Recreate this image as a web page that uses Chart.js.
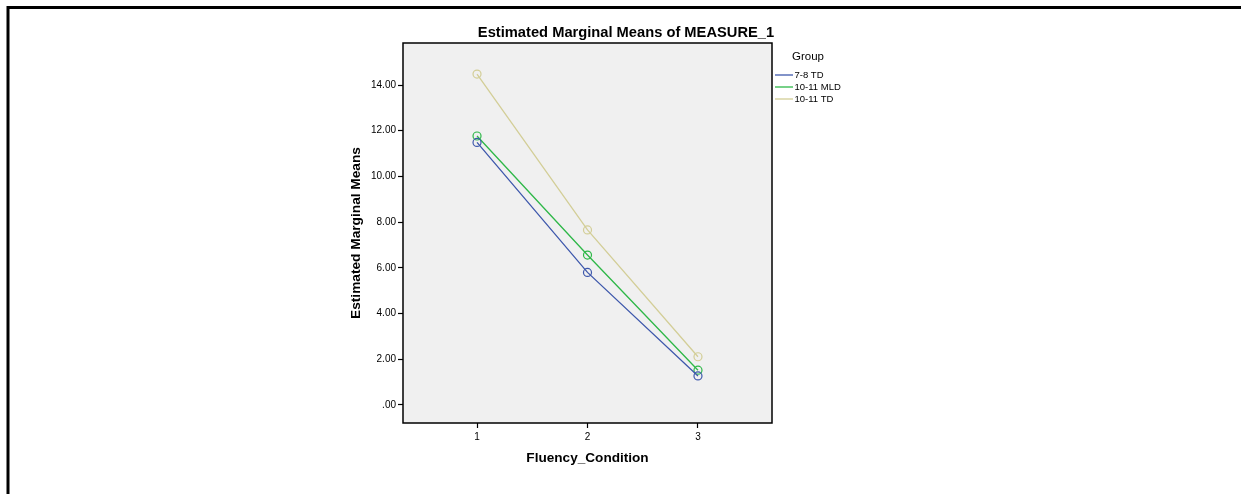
<!DOCTYPE html>
<html>
<head>
<meta charset="utf-8">
<title>Estimated Marginal Means of MEASURE_1</title>
<script src="https://cdn.jsdelivr.net/npm/chart.js@4.4.0/dist/chart.umd.min.js"></script>
<style>
    html, body { margin: 0; padding: 0; background: #fff; }
    canvas { display: block; }
</style>
</head>
<body>
<canvas id="emmChart" width="1241" height="494"></canvas>
<script>
// Data
const conditions = [1, 2, 3];
const groupNames = ['7-8 TD', '10-11 MLD', '10-11 TD'];
const td78 = [11.49, 5.80, 1.27];
const mld1011 = [11.77, 6.56, 1.52];
const td1011 = [14.48, 7.66, 2.11];
const yTicks = [0, 2, 4, 6, 8, 10, 12, 14];
const yTickLabels = ['.00', '2.00', '4.00', '6.00', '8.00', '10.00', '12.00', '14.00'];
const xTicks = [1, 2, 3];

// SPSS default palette
const groupColors = ['#3E58AC', '#2EB848', '#D3CE97'];
const seriesValues = [td78, mld1011, td1011];

const FONT = '"Liberation Sans", Arial, sans-serif';

function makeDataset(i) {
    return {
        label: groupNames[i],
        data: conditions.map((c, j) => ({ x: c, y: seriesValues[i][j] })),
        borderColor: groupColors[i],
        backgroundColor: 'transparent',
        borderWidth: 1.3,
        pointRadius: 4,
        pointHoverRadius: 4,
        pointBorderWidth: 1.2,
        pointBackgroundColor: 'transparent',
        pointBorderColor: groupColors[i],
        tension: 0
    };
}

// Page frame, plot background, title, legend
const spssDecor = {
    id: 'spssDecor',
    beforeDraw(chart) {
        const { ctx, chartArea: a } = chart;
        ctx.save();
        ctx.fillStyle = '#f0f0f0';
        ctx.fillRect(a.left, a.top, a.right - a.left, a.bottom - a.top);
        ctx.restore();
    },
    afterDraw(chart) {
        const { ctx, chartArea: a } = chart;
        ctx.save();
        // outer page border (top + left)
        ctx.strokeStyle = '#000';
        ctx.lineWidth = 3;
        ctx.beginPath();
        ctx.moveTo(1241, 7.5);
        ctx.lineTo(8, 7.5);
        ctx.lineTo(8, 494);
        ctx.stroke();

        // plot frame
        ctx.lineWidth = 1.5;
        ctx.strokeRect(a.left, a.top, a.right - a.left, a.bottom - a.top);

        // title
        ctx.fillStyle = '#000';
        ctx.font = 'bold 14.7px ' + FONT;
        ctx.textAlign = 'center';
        ctx.textBaseline = 'middle';
        ctx.fillText('Estimated Marginal Means of MEASURE_1', 626, 33);

        // legend
        ctx.textAlign = 'left';
        ctx.font = '11.5px ' + FONT;
        ctx.fillText('Group', 792, 57);
        ctx.font = '9.5px ' + FONT;
        chart.data.datasets.forEach((ds, i) => {
            const y = 75 + i * 12;
            ctx.strokeStyle = ds.borderColor;
            ctx.lineWidth = 1.3;
            ctx.beginPath();
            ctx.moveTo(775, y);
            ctx.lineTo(793, y);
            ctx.stroke();
            ctx.fillStyle = '#000';
            ctx.fillText(ds.label, 794.5, y + 0.5);
        });
        ctx.restore();
    }
};

const ctx = document.getElementById('emmChart').getContext('2d');
const chart = new Chart(ctx, {
    type: 'line',
    data: {
        datasets: [makeDataset(0), makeDataset(1), makeDataset(2)]
    },
    options: {
        responsive: false,
        animation: false,
        devicePixelRatio: 1,
        layout: {
            padding: { left: 340, top: 43, right: 469, bottom: 21 }
        },
        plugins: {
            legend: { display: false },
            title: { display: false },
            tooltip: { enabled: false }
        },
        scales: {
            x: {
                type: 'linear',
                min: 0.33,
                max: 3.67,
                afterBuildTicks: (scale) => { scale.ticks = xTicks.map(v => ({ value: v })); },
                afterFit: (scale) => { scale.height = 50; },
                grid: {
                    drawOnChartArea: false,
                    drawTicks: true,
                    tickLength: 5,
                    tickColor: '#000',
                    tickWidth: 1.2
                },
                border: { display: false },
                ticks: {
                    color: '#000',
                    font: { family: FONT, size: 10 },
                    padding: 3,
                    maxRotation: 0,
                    callback: (v) => String(v)
                },
                title: {
                    display: true,
                    text: 'Fluency_Condition',
                    color: '#000',
                    font: { family: FONT, size: 13.6, weight: 'bold' },
                    padding: { top: 0, bottom: 7 }
                }
            },
            y: {
                type: 'linear',
                min: -0.79,
                max: 15.84,
                afterBuildTicks: (scale) => { scale.ticks = yTicks.map(v => ({ value: v })); },
                afterFit: (scale) => { scale.width = 63; },
                grid: {
                    drawOnChartArea: false,
                    drawTicks: true,
                    tickLength: 5,
                    tickColor: '#000',
                    tickWidth: 1.2
                },
                border: { display: false },
                ticks: {
                    color: '#000',
                    font: { family: FONT, size: 10 },
                    padding: 2,
                    callback: (v) => yTickLabels[yTicks.indexOf(v)]
                },
                title: {
                    display: true,
                    text: 'Estimated Marginal Means',
                    color: '#000',
                    font: { family: FONT, size: 13.7, weight: 'bold' },
                    padding: { top: 8, bottom: 0 }
                }
            }
        }
    },
    plugins: [spssDecor]
});
</script>
</body>
</html>
